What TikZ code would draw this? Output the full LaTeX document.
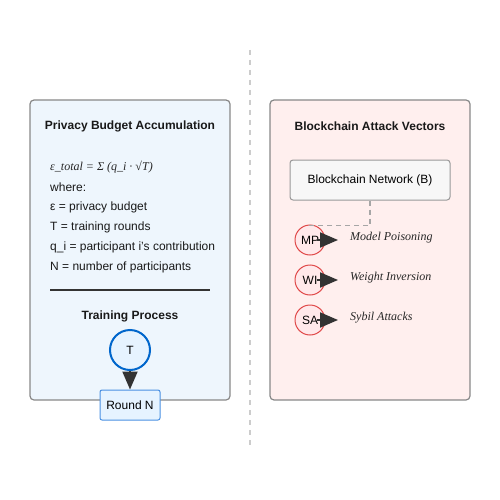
\documentclass[tikz,border=0pt]{standalone}
\usepackage{fontspec}
\setmainfont{Liberation Sans}
\newfontfamily\serifit{Liberation Serif}
\usetikzlibrary{arrows.meta}
\definecolor{leftfill}{HTML}{EEF6FD}
\definecolor{rightfill}{HTML}{FFEFEE}
\definecolor{panelborder}{HTML}{888888}
\definecolor{tblue}{HTML}{0066CC}
\definecolor{tfill}{HTML}{E6F3FF}
\definecolor{rblue}{HTML}{4A90E2}
\definecolor{atkred}{HTML}{E04848}
\definecolor{atkfill}{HTML}{FFE8EA}
\definecolor{darkarrow}{HTML}{333333}
\tikzset{
  panel/.style={draw=panelborder, line width=1.2pt, rounded corners=4pt, minimum width=200pt, minimum height=300pt, inner sep=0pt},
  paneltitle/.style={font=\bfseries\fontsize{12}{14}\selectfont, text=black!90, inner sep=0pt},
  bodytext/.style={font=\fontsize{12}{14}\selectfont, anchor=west, inner sep=0pt, text=black!90},
  itext/.style={font=\serifit\itshape\fontsize{12}{14}\selectfont, anchor=west, inner sep=0pt, text=black!85},
  tcircle/.style={circle, draw=tblue, line width=2pt, fill=tfill, minimum size=40pt, inner sep=0pt, font=\fontsize{12}{14}\selectfont},
  roundbox/.style={draw=rblue, line width=1pt, fill=tfill, rounded corners=2pt, minimum width=60pt, minimum height=30pt, inner sep=0pt, font=\fontsize{12}{14}\selectfont},
  netbox/.style={draw=black!40, line width=1pt, fill=black!3, rounded corners=3pt, minimum width=160pt, minimum height=40pt, inner sep=0pt, font=\fontsize{12}{14}\selectfont},
  atk/.style={circle, draw=atkred, line width=1pt, fill=atkfill, minimum size=30pt, inner sep=0pt, font=\fontsize{12}{14}\selectfont},
  bigarrow/.style={draw=darkarrow, line width=2pt, -{Triangle[length=18pt, width=15pt]}, color=darkarrow},
}
\begin{document}
\begin{tikzpicture}[x=1pt, y=-1pt]
\useasboundingbox (0,0) rectangle (500,500);
% divider
\draw[black!20, line width=2pt, dash pattern=on 5pt off 5pt] (250,50) -- (250,445);
% panels
\node[panel, fill=leftfill] (left) at (130,250) {};
\node[panel, fill=rightfill] (right) at (370,250) {};
% left content
\node[paneltitle] (lt) at (130,126.5) {Privacy Budget Accumulation};
\node[itext] (f) at (50,167) {ε\_total = Σ (q\_i · √T)};
\node[bodytext] (l1) at (50,187.5) {where:};
\node[bodytext] (l2) at (50,207.5) {ε = privacy budget};
\node[bodytext] (l3) at (50,227.5) {T = training rounds};
\node[bodytext] (l4) at (50,247.5) {q\_i = participant i's contribution};
\node[bodytext] (l5) at (50,267.5) {N = number of participants};
\coordinate (sepa) at (50,290);
\coordinate (sepb) at (210,290);
\draw[darkarrow, line width=2pt] (sepa) -- (sepb);
\node[paneltitle] (tp) at (130,316.5) {Training Process};
\node[roundbox] (rn) at (130,405) {Round N};
\node[tcircle] (t) at (130,350) {T};
\draw[bigarrow] (t.south) -- (rn.north);
% right content
\node[paneltitle] (rt) at (370,126.5) {Blockchain Attack Vectors};
\node[netbox] (b) at (370,180) {Blockchain Network (B)};
\node[atk] (mp) at (310,240) {MP};
\node[atk] (wi) at (310,280) {WI};
\node[atk] (sa) at (310,320) {SA};
\draw[black!35, line width=1.5pt, dash pattern=on 5pt off 4pt] (b.south) -- ++(0,25) -| (mp.north);
\coordinate (mpe) at (338,240);
\coordinate (wie) at (338,280);
\coordinate (sae) at (338,320);
\draw[bigarrow] ([xshift=7pt]mp.center) -- (mpe);
\draw[bigarrow] ([xshift=7pt]wi.center) -- (wie);
\draw[bigarrow] ([xshift=7pt]sa.center) -- (sae);
\node[itext] (mpl) at (350,237.5) {Model Poisoning};
\node[itext] (wil) at (350,277.5) {Weight Inversion};
\node[itext] (sal) at (350,317.5) {Sybil Attacks};
\end{tikzpicture}
\end{document}
